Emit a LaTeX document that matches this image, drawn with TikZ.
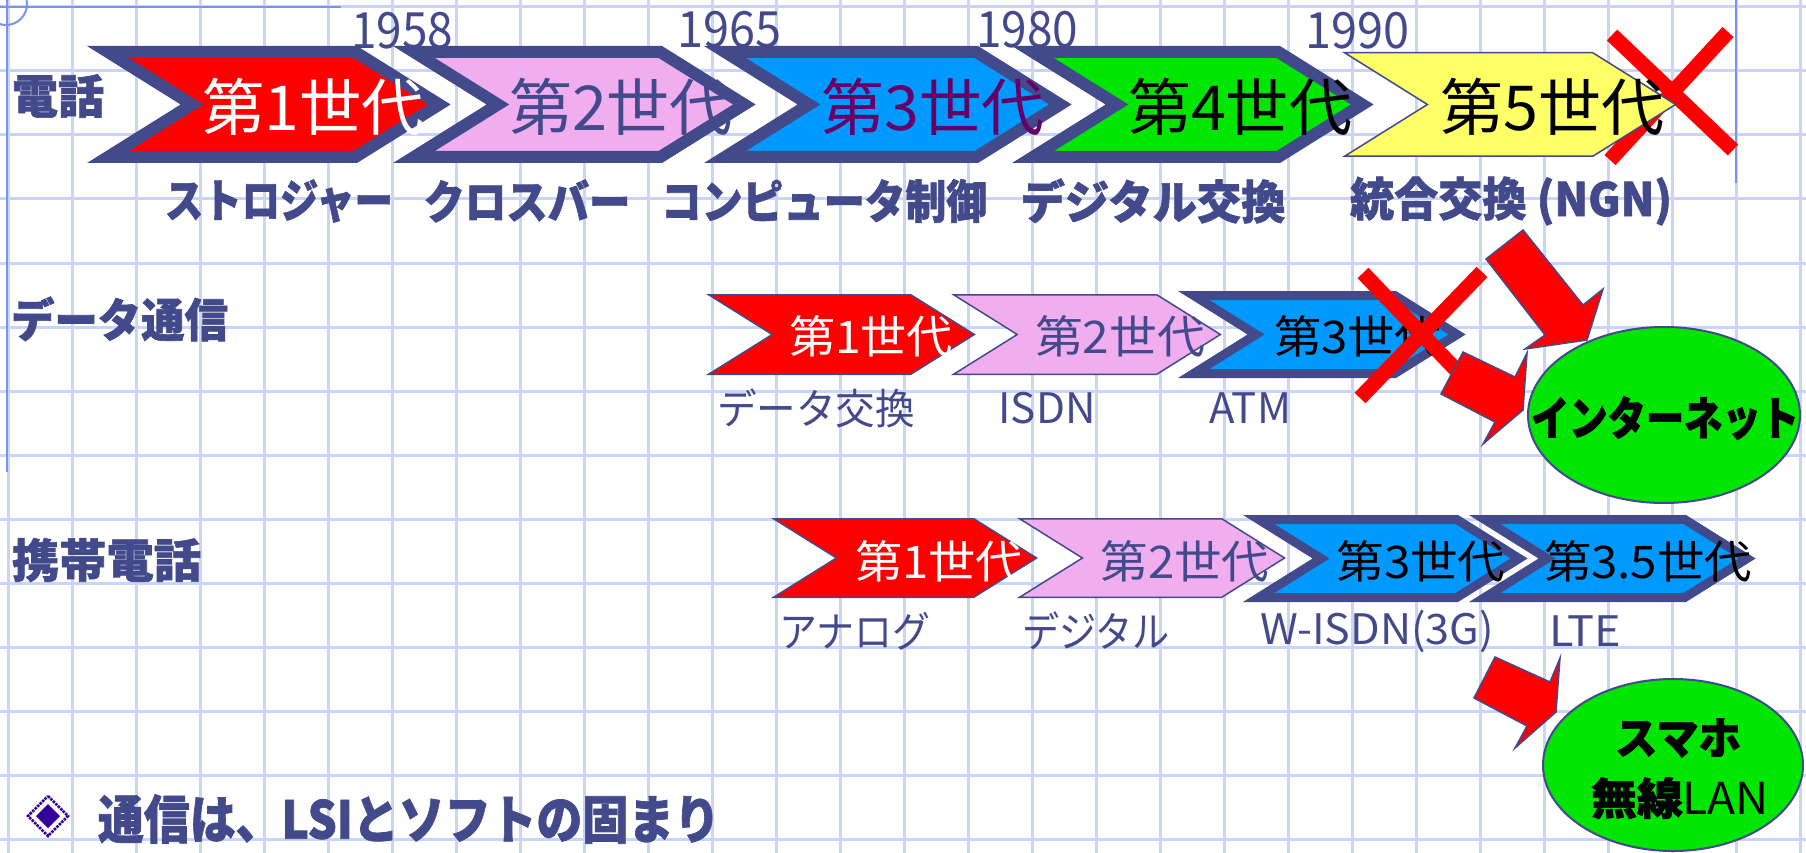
\documentclass[tikz,border=0pt]{standalone}
\usepackage{fontspec}
\usepackage{graphicx}
\setmainfont{Noto Sans CJK JP}
\newfontfamily\jpheavy{Noto Sans CJK JP}[FakeBold=1.4]
\definecolor{navy}{HTML}{434A8C}
\definecolor{gridc}{HTML}{C8D5F8}
\definecolor{gridd}{HTML}{7894EE}
\definecolor{pinkc}{HTML}{F0AEEE}
\definecolor{bluec}{HTML}{0099FF}
\definecolor{greenc}{HTML}{00E600}
\definecolor{yellowc}{HTML}{FFFF66}
\definecolor{purpc}{HTML}{660066}
\definecolor{indig}{HTML}{330099}
\newcommand\fitw[3]{\resizebox{#1pt}{\height}{\fontsize{#2pt}{#2pt}\selectfont #3}}
\newcommand\hv{\jpheavy\bfseries}
\newcommand\chevshape[6]{%
  \pgfmathsetmacro\chvP{#6/2}%
  \pgfmathsetmacro\chvT{#3+\chvP}%
  \pgfmathsetmacro\chvB{#4-\chvP}%
  \pgfmathsetmacro\chvM{(#3+#4)/2}%
  \pgfmathsetmacro\chvH{(#4-#3)/2-\chvP}%
  \pgfmathsetmacro\chvL{#1+3.487*\chvP}%
  \pgfmathsetmacro\chvR{#2-0.287*\chvP}%
  \pgfmathsetmacro\chvN{\chvL+1.6*\chvH}%
  \pgfmathsetmacro\chvX{\chvR+1.6*\chvH}%
  \draw[navy, line width=#6pt, line join=miter, miter limit=10, fill=#5] (\chvL,\chvT) -- (\chvR,\chvT) -- (\chvX,\chvM) -- (\chvR,\chvB) -- (\chvL,\chvB) -- (\chvN,\chvM) -- cycle;%
}
\begin{document}
\begin{tikzpicture}[x=1pt,y=-1pt,
  txt/.style={inner sep=0pt, outer sep=0pt},
  navytxt/.style={txt, text=navy},
  gridline/.style={gridc, line width=3pt},
  darkline/.style={gridd, line width=2.5pt},
  xmark/.style={red, line width=15pt},
  blockarrow/.style={fill=red, draw=navy, line width=1.5pt, line join=miter},
  bubble/.style={fill=greenc, draw=navy, line width=2pt}]
\useasboundingbox (0,0) rectangle (1806,853);
\fill[white] (0,0) rectangle (1806,853);
% grid
\foreach \k in {0,...,28} \draw[gridline] ({8+64*\k},0) -- ({8+64*\k},853);
\foreach \k in {0,...,13} \draw[gridline] (0,{7+64*\k}) -- (1806,{7+64*\k});
\draw[darkline] (0,7) -- (341,7);
\draw[darkline] (7,0) -- (7,472);
\draw[darkline] (1736,0) -- (1736,183);
\draw[gridd, line width=2pt] (6,4) circle[radius=21pt];

% years
\node[navytxt] (y1958) at (402,31) {\fitw{102}{50}{1958}};
\node[navytxt] (y1965) at (729,30) {\fitw{104}{50}{1965}};
\node[navytxt] (y1980) at (1027,30) {\fitw{102}{50}{1980}};
\node[navytxt] (y1990) at (1357,31) {\fitw{104}{50}{1990}};

% row labels
\node[navytxt] (rTel) at (58,96) {\fitw{92}{46}{\hv 電話}};
\node[navytxt] (rData) at (119.5,319) {\fitw{217}{46}{\hv データ通信}};
\node[navytxt] (rMob) at (106.5,560) {\fitw{189}{46}{\hv 携帯電話}};

% row 1 chevrons
\chevshape{87}{357}{46}{163}{red}{12}
\chevshape{393}{662}{46}{163}{pinkc}{12}
\chevshape{704}{978}{46}{163}{bluec}{12}
\chevshape{1012}{1280}{46}{163}{greenc}{12}
\node[txt, text=white] (t11) at (313,107) {\fitw{222}{62}{第1世代}};
\node[navytxt] (t12) at (621,107) {\fitw{224}{62}{第2世代}};
\node[txt, text=purpc] (t13) at (933,107) {\fitw{223}{62}{第3世代}};
\node[txt, text=black] (t14) at (1240,107) {\fitw{224}{62}{第4世代}};
\draw[xmark] (1612,35) -- (1733,150);
\draw[xmark] (1728,32) -- (1610,160);
\chevshape{1342}{1593}{52}{157}{yellowc}{1.5}
\node[txt, text=black] (t15) at (1552,107) {\fitw{224}{62}{第5世代}};

\node[navytxt] (s11) at (279,201) {\fitw{228}{46}{\hv ストロジャー}};
\node[navytxt] (s12) at (527,201) {\fitw{207}{46}{\hv クロスバー}};
\node[navytxt] (s13) at (824,201) {\fitw{326}{46}{\hv コンピュータ制御}};
\node[navytxt] (s14) at (1153,201) {\fitw{265}{46}{\hv デジタル交換}};
\node[navytxt] (s15) at (1511,201) {\fitw{322}{46}{\hv 統合交換 (NGN)}};

% row 2
\chevshape{706}{911}{294}{375}{red}{1.5}
\chevshape{951}{1157}{294}{375}{pinkc}{1.5}
\chevshape{1178}{1396}{291}{378}{bluec}{9}
\node[txt, text=white] (t21) at (871,336) {\fitw{164}{45}{第1世代}};
\node[navytxt] (t22) at (1120,336) {\fitw{170}{45}{第2世代}};
\node[txt, text=black] (t23) at (1358,336) {\fitw{168}{45}{第3世代}};
\node[navytxt] (s21) at (816,408) {\fitw{198}{42}{データ交換}};
\node[navytxt] (s22) at (1047,408) {\fitw{97}{42}{ISDN}};
\node[navytxt] (s23) at (1250,408) {\fitw{82}{42}{ATM}};
\draw[xmark] (1482,272) -- (1360,398);
\draw[xmark] (1363,273) -- (1485,400);

% row 3
\chevshape{771}{974}{518}{598}{red}{1.5}
\chevshape{1017}{1222}{518}{598}{pinkc}{1.5}
\chevshape{1243}{1458}{515}{602}{bluec}{9}
\chevshape{1469}{1686}{515}{602}{bluec}{9}
\node[txt, text=white] (t31) at (939,561) {\fitw{168}{45}{第1世代}};
\node[navytxt] (t32) at (1185,561) {\fitw{169}{45}{第2世代}};
\node[txt, text=black] (t33) at (1421,561) {\fitw{169}{45}{第3世代}};
\node[txt, text=black] (t34) at (1648,561) {\fitw{208}{45}{第3.5世代}};
\node[navytxt] (s31) at (855,631) {\fitw{151}{42}{アナログ}};
\node[navytxt] (s32) at (1096,631) {\fitw{148}{42}{デジタル}};
\node[navytxt] (s33) at (1377,631) {\fitw{234}{42}{W-ISDN(3G)}};
\node[navytxt] (s34) at (1585,631) {\fitw{72}{42}{LTE}};

% block arrows
\draw[blockarrow] (1486,259) -- (1523,230) -- (1583,305) -- (1603,289) -- (1587,340) -- (1525,349) -- (1545,335) -- cycle;
\draw[blockarrow] (1441,394) -- (1463,352) -- (1515,377) -- (1527,353) -- (1523,410) -- (1483,444) -- (1495,422) -- cycle;
\draw[blockarrow] (1474,698) -- (1495,657) -- (1550,682) -- (1560,658) -- (1556,712) -- (1515,748) -- (1527,726) -- cycle;

% bubbles
\draw[bubble] (1664,415) ellipse [x radius=136pt, y radius=88pt];
\node[txt, text=black] (tInet) at (1665,418) {\fitw{268}{46}{\hv インターネット}};
\draw[bubble] (1673,765) ellipse [x radius=130pt, y radius=86pt];
\node[txt, text=black] (tSm1) at (1678,738) {\fitw{126}{44}{\hv スマホ}};
\node[txt, text=black] (tSm2) at (1680,798) {\fitw{178}{44}{{\hv 無線}LAN}};

% bottom line
\draw[indig, line width=2.5pt, densely dotted, fill=white] (48,796) -- (68,816) -- (48,836) -- (28,816) -- cycle;
\fill[indig] (48,804) -- (60,816) -- (48,828) -- (36,816) -- cycle;
\node[navytxt] (tBottom) at (409,819) {\fitw{622}{52}{\hv 通信は、LSIとソフトの固まり}};
\end{tikzpicture}
\end{document}
